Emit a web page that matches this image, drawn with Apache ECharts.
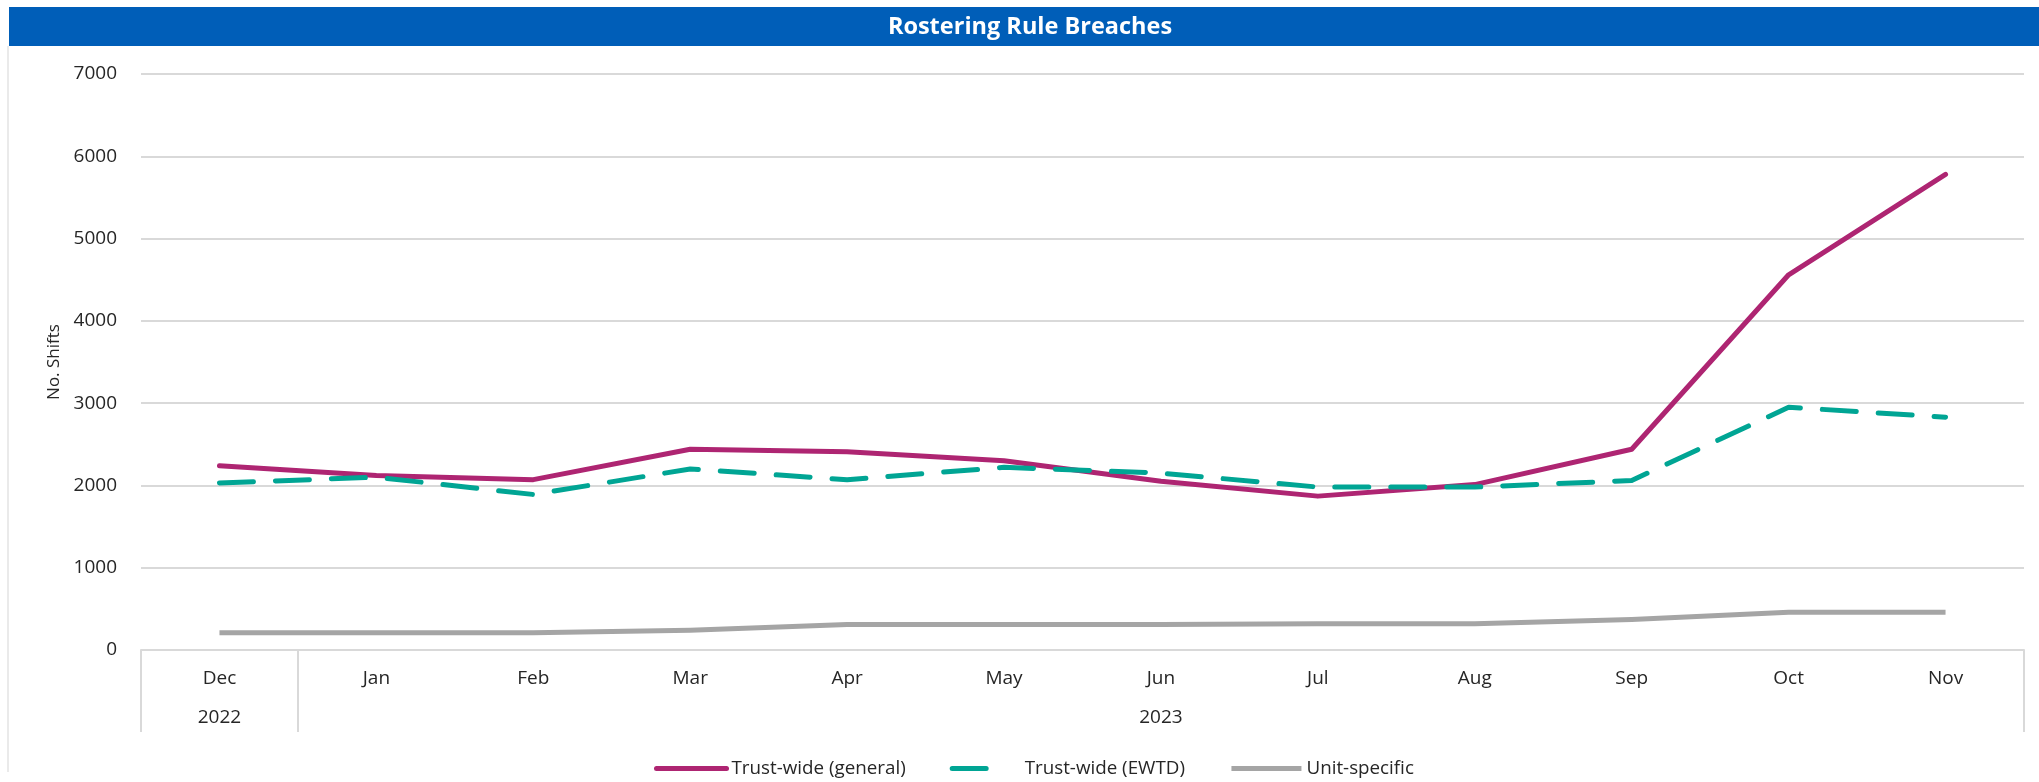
<!DOCTYPE html>
<html>
<head>
<meta charset="utf-8">
<title>Rostering Rule Breaches</title>
<script src="https://cdn.jsdelivr.net/npm/echarts@6/dist/echarts.min.js"></script>
<style>
  html, body { margin: 0; padding: 0; background: #ffffff; }
  #chart { width: 2039px; height: 782px; }
</style>
</head>
<body>
<div id="chart"></div>
<script>
// Months shown along the axis, with the year row underneath
const categories = ['Dec', 'Jan', 'Feb', 'Mar', 'Apr', 'May', 'Jun', 'Jul', 'Aug', 'Sep', 'Oct', 'Nov'];
const yearLabels = ['2022', '', '', '', '', '', '2023', '', '', '', '', ''];

// Monthly counts of shifts breaching rostering rules
const trustGeneral = [2240, 2120, 2070, 2440, 2410, 2300, 2050, 1870, 2010, 2440, 4560, 5780];
const trustEwtd    = [2030, 2100, 1890, 2200, 2070, 2220, 2150, 1980, 1980, 2060, 2950, 2830];
const unitSpecific = [210, 210, 210, 240, 310, 310, 310, 320, 320, 370, 460, 460];

const seriesNames = ['Trust-wide (general)', 'Trust-wide (EWTD)', 'Unit-specific'];
const yMin = 0, yMax = 7000, yStep = 1000;

const FONT = '"Open Sans", Lato, sans-serif';
const TEXT = '#262626';
const RULE = '#d9d9d9';

// Legend key for the dashed series: one rounded dash at the left of a 70x14 box
// (the two single-point subpaths only fix the box extent).
const DASH_KEY = 'path://M0,-7L0,-7Z M70,7L70,7Z ' +
  'M2.5,-2.5 L36.5,-2.5 A2.5,2.5 0 0 1 36.5,2.5 L2.5,2.5 A2.5,2.5 0 0 1 2.5,-2.5 Z';

const chart = echarts.init(document.getElementById('chart'), null, { renderer: 'canvas' });

chart.setOption({
  animation: false,
  backgroundColor: '#ffffff',
  textStyle: { fontFamily: FONT, color: TEXT },
  grid: { left: 141, right: 15, top: 74, bottom: 132, containLabel: false },
  xAxis: {
    type: 'category',
    data: categories,
    boundaryGap: true,
    axisLine: { show: true, lineStyle: { color: RULE, width: 2 } },
    axisTick: { show: false },
    axisLabel: {
      interval: 0,
      margin: 9,
      fontFamily: FONT,
      fontSize: 19,
      color: TEXT,
      lineHeight: 39,
      formatter: (val, idx) => yearLabels[idx] ? val + '\n' + yearLabels[idx] : val
    }
  },
  yAxis: {
    type: 'value',
    min: yMin, max: yMax, interval: yStep,
    name: 'No. Shifts',
    nameLocation: 'middle',
    nameGap: 78,
    nameRotate: 90,
    nameTextStyle: { fontFamily: FONT, fontSize: 17, color: TEXT },
    axisLine: { show: false },
    axisTick: { show: false },
    axisLabel: {
      margin: 24, fontFamily: FONT, fontSize: 19, color: TEXT,
      formatter: v => String(v)
    },
    splitLine: { show: true, lineStyle: { color: RULE, width: 2 } }
  },
  legend: {
    bottom: -1,
    left: 649,
    itemWidth: 70,
    itemHeight: 14,
    itemGap: 44,
    itemStyle: { opacity: 0 },
    lineStyle: { width: 5, cap: 'round' },
    textStyle: { fontFamily: FONT, fontSize: 18.8, color: TEXT },
    data: [
      { name: seriesNames[0] },
      { name: seriesNames[1], icon: DASH_KEY, itemStyle: { opacity: 1, color: '#00a594' } },
      { name: seriesNames[2], lineStyle: { width: 5, cap: 'butt' } }
    ]
  },
  series: [
    {
      name: seriesNames[0], type: 'line', data: trustGeneral,
      symbol: 'none', z: 3,
      lineStyle: { color: '#ae2572', width: 5, join: 'round', cap: 'round' },
      itemStyle: { color: '#ae2572' }
    },
    {
      name: seriesNames[1], type: 'line', data: trustEwtd,
      symbol: 'none', z: 4,
      lineStyle: { color: '#00a594', width: 5, type: [34, 22], cap: 'round', join: 'round' },
      itemStyle: { color: '#00a594' }
    },
    {
      name: seriesNames[2], type: 'line', data: unitSpecific,
      symbol: 'none', z: 2,
      lineStyle: { color: '#a5a5a5', width: 5, join: 'round' },
      itemStyle: { color: '#a5a5a5' }
    }
  ]
});

// Header band, outer frame line and the boxed two-row category axis
function drawFrame() {
  const cx0 = chart.convertToPixel({ xAxisIndex: 0 }, 0);
  const cx1 = chart.convertToPixel({ xAxisIndex: 0 }, 1);
  const band = cx1 - cx0;
  const yBase = chart.convertToPixel({ yAxisIndex: 0 }, yMin);
  const depth = 82;
  const dividers = [cx0 - band / 2, cx0 + band / 2, cx0 + band * (categories.length - 0.5)];

  const elements = [
    {
      type: 'rect', silent: true,
      shape: { x: 9, y: 7, width: 2030, height: 39 },
      style: { fill: '#005eb8' }
    },
    {
      type: 'text', silent: true,
      x: 1030, y: 27,
      style: {
        text: 'Rostering Rule Breaches',
        fill: '#ffffff',
        font: 'bold 23.5px ' + FONT,
        align: 'center',
        verticalAlign: 'middle'
      }
    },
    {
      type: 'line', silent: true,
      shape: { x1: 8, y1: 46, x2: 8, y2: 772 },
      style: { stroke: '#e3e3e3', lineWidth: 1.5 }
    }
  ];
  dividers.forEach(x => {
    const px = Math.round(x);
    elements.push({
      type: 'line', silent: true,
      shape: { x1: px, y1: yBase, x2: px, y2: yBase + depth },
      style: { stroke: RULE, lineWidth: 2 }
    });
  });
  chart.setOption({ graphic: { elements: elements } });
}
drawFrame();
</script>
</body>
</html>
